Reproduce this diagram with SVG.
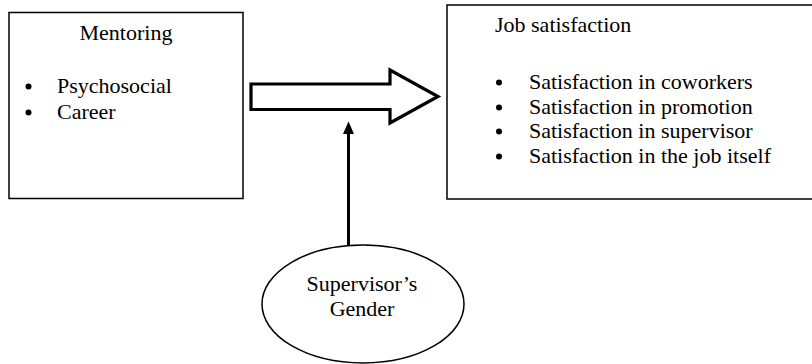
<svg xmlns="http://www.w3.org/2000/svg" width="812" height="364" viewBox="0 0 812 364">
<style>
.box{fill:#fff;stroke:#000;stroke-width:1.5}
.t{font-family:"Liberation Serif","Times New Roman","DejaVu Serif",serif;font-size:22px;fill:#000}
.m{text-anchor:middle}
.b{fill:#000}
</style>
<rect width="812" height="364" fill="#fff"/>
<g id="mentoring">
<rect class="box" x="9" y="12.5" width="234" height="186"/>
<text class="t m" x="126" y="40">Mentoring</text>
<circle class="b" cx="28.5" cy="86.5" r="3"/>
<text class="t" x="57" y="93">Psychosocial</text>
<circle class="b" cx="28.5" cy="112.5" r="3"/>
<text class="t" x="57" y="119">Career</text>
</g>
<g id="job-satisfaction">
<rect class="box" x="447" y="5" width="370" height="194"/>
<text class="t" x="495" y="32">Job satisfaction</text>
<circle class="b" cx="499" cy="82.5" r="3"/>
<text class="t" x="529" y="89">Satisfaction in coworkers</text>
<circle class="b" cx="499" cy="107.5" r="3"/>
<text class="t" x="529" y="114">Satisfaction in promotion</text>
<circle class="b" cx="499" cy="131.5" r="3"/>
<text class="t" x="529" y="138">Satisfaction in supervisor</text>
<circle class="b" cx="499" cy="156.5" r="3"/>
<text class="t" x="529" y="163">Satisfaction in the job itself</text>
</g>
<g id="supervisor-gender">
<ellipse class="box" cx="363" cy="304" rx="101" ry="59"/>
<text class="t m" x="362" y="291">Supervisor’s</text>
<text class="t m" x="362" y="316">Gender</text>
</g>
<g id="connectors">
<path d="M251,84 H390 V70 L438,96.5 L390,123 V109.5 H251 Z" fill="#fff" stroke="#000" stroke-width="3.2" stroke-linejoin="miter"/>
<line x1="348.5" y1="245" x2="348.5" y2="132" stroke="#000" stroke-width="3"/>
<polygon points="348.5,121.5 354,134 343,134" fill="#000"/>
</g>
</svg>
